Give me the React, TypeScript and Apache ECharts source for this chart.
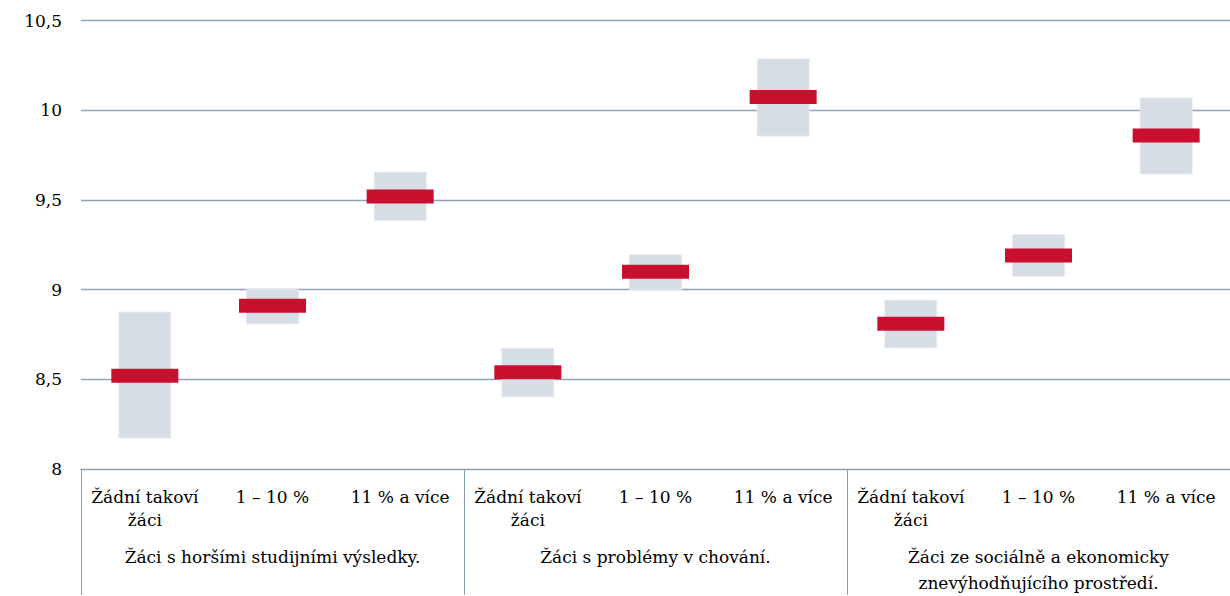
import React, { useEffect, useRef } from "react";
import * as echarts from "echarts";

const categories = [
  "Žádní takoví\nžáci", "1 – 10 %", "11 % a více",
  "Žádní takoví\nžáci", "1 – 10 %", "11 % a více",
  "Žádní takoví\nžáci", "1 – 10 %", "11 % a více",
];
const groups = [
  "Žáci s horšími studijními výsledky.",
  "Žáci s problémy v chování.",
  "Žáci ze sociálně a ekonomicky\nznevýhodňujícího prostředí.",
];
const meanValues = [8.52, 8.91, 9.52, 8.54, 9.1, 10.075, 8.81, 9.19, 9.86];
const lowValues = [8.17, 8.807, 9.383, 8.4, 8.997, 9.854, 8.672, 9.072, 9.643];
const highValues = [8.878, 9.003, 9.659, 8.676, 9.198, 10.29, 8.945, 9.31, 10.072];
const yTicks = { min: 8, max: 10.5, interval: 0.5 };

const FONT = "DejaVu Serif";
const RED = "#C8102E";
const GRAY = "#D6DDE4";
const GRID = "#8FA1BC";
const BOX = "#8A9BB5";

export default function App() {
  const ref = useRef<HTMLDivElement>(null);
  useEffect(() => {
    if (!ref.current) return;
    const chart = echarts.init(ref.current, null, { renderer: "svg" });
    chart.setOption({
      animation: false,
      backgroundColor: "#ffffff",
      textStyle: { fontFamily: FONT },
      grid: { left: 81, right: 0, top: 20.7, bottom: 125.3, containLabel: false },
      xAxis: [
        {
          type: "category",
          data: categories,
          position: "bottom",
          axisLine: { show: true, lineStyle: { color: BOX, width: 1 } },
          axisTick: { show: false },
          axisLabel: {
            interval: 0,
            margin: 16,
            color: "#000",
            fontFamily: FONT,
            fontSize: 17,
            lineHeight: 23,
          },
        },
        {
          type: "category",
          data: groups,
          position: "bottom",
          axisLine: { show: true, lineStyle: { color: BOX, width: 1 } },
          axisTick: { show: true, length: 126, lineStyle: { color: BOX, width: 1 } },
          axisLabel: {
            interval: 0,
            margin: 75,
            color: "#000",
            fontFamily: FONT,
            fontSize: 17,
            lineHeight: 26,
          },
        },
      ],
      yAxis: {
        type: "value",
        min: yTicks.min,
        max: yTicks.max,
        interval: yTicks.interval,
        axisLine: { show: false },
        axisTick: { show: false },
        splitLine: { show: true, lineStyle: { color: GRID, width: 1.3 } },
        axisLabel: {
          margin: 19,
          color: "#000",
          fontFamily: FONT,
          fontSize: 17,
          formatter: (v: number) => String(v).replace(".", ","),
        },
      },
      series: [
        {
          type: "bar",
          stack: "range",
          xAxisIndex: 0,
          barWidth: 53,
          silent: true,
          itemStyle: { color: "transparent" },
          data: lowValues,
        },
        {
          type: "bar",
          stack: "range",
          xAxisIndex: 0,
          barWidth: 53,
          itemStyle: { color: GRAY, borderColor: "#E6EAF0", borderWidth: 1 },
          data: highValues.map((h, i) => +(h - lowValues[i]).toFixed(4)),
        },
        {
          type: "scatter",
          xAxisIndex: 0,
          symbol: "rect",
          symbolSize: [67, 14],
          itemStyle: { color: RED, opacity: 1 },
          z: 5,
          data: meanValues,
        },
      ],
    });
    return () => chart.dispose();
  }, []);
  return (
    <div
      ref={ref}
      style={{ position: "absolute", left: 0, top: 0, width: 1230, height: 596, background: "#fff" }}
    />
  );
}
